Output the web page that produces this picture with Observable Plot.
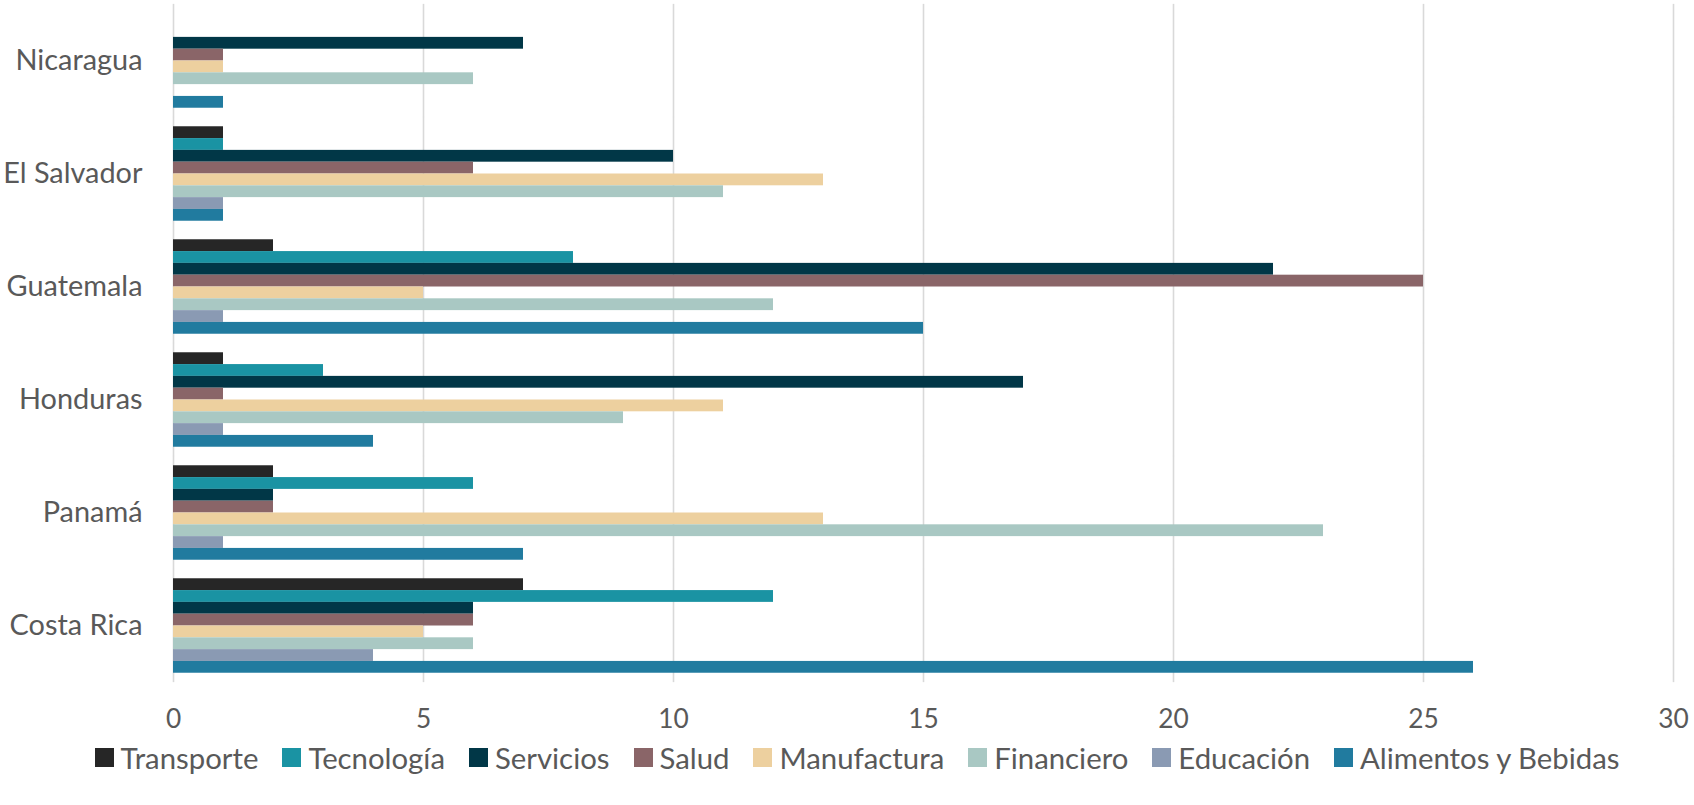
<!DOCTYPE html>
<html>
<head>
<meta charset="utf-8">
<script src="https://cdn.jsdelivr.net/npm/d3@7"></script>
<script src="https://cdn.jsdelivr.net/npm/@observablehq/plot@0.6"></script>
<style>
  html, body { margin: 0; padding: 0; background: #fff; }
  body { width: 1694px; height: 805px; overflow: hidden; font-family: Lato, sans-serif; }
  #chart svg { display: block; }
  #legend { display: flex; justify-content: center; align-items: center; height: 34px; margin-left: 20px; color: #595959; white-space: nowrap; }
  #legend .item { display: flex; align-items: center; margin: 0 12px; }
  #legend .sw { width: 19px; height: 19px; margin-right: 7px; flex: none; }
</style>
</head>
<body>
<div id="chart"></div>
<div id="legend"></div>
<script>
const countries = ["Nicaragua", "El Salvador", "Guatemala", "Honduras", "Panamá", "Costa Rica"];
const sectors = ["Transporte", "Tecnología", "Servicios", "Salud", "Manufactura", "Financiero", "Educación", "Alimentos y Bebidas"];
const colors = ["#262626", "#1a93a3", "#013747", "#8a6568", "#edd09f", "#a9c8c3", "#8a9ab3", "#217b9f"];
const xTicks = [0, 5, 10, 15, 20, 25, 30];

// values per sector, aligned with countries
const transporte  = [0, 1, 2, 1, 2, 7];
const tecnologia  = [0, 1, 8, 3, 6, 12];
const servicios   = [7, 10, 22, 17, 2, 6];
const salud       = [1, 6, 25, 1, 2, 6];
const manufactura = [1, 13, 5, 11, 13, 5];
const financiero  = [6, 11, 12, 9, 23, 6];
const educacion   = [0, 1, 1, 1, 1, 4];
const alimentos   = [1, 1, 15, 4, 7, 26];

const series = [transporte, tecnologia, servicios, salud, manufactura, financiero, educacion, alimentos];
const table = [];
sectors.forEach((s, i) => {
  countries.forEach((c, j) => {
    table.push({country: c, sector: s, value: series[i][j]});
  });
});

const textColor = "#595959";
const fontFam = "Lato, 'Open Sans', sans-serif";

// choose font sizes so the installed font matches the reference text widths
const ctx = document.createElement("canvas").getContext("2d");
function fit(text, target) {
  ctx.font = "100px " + fontFam;
  return 100 * target / ctx.measureText(text).width;
}
const countrySize = fit("Costa Rica", 133);
const tickSize = fit("10", 30.5);
const legendSize = fit("Alimentos y Bebidas", 261);

const chart = Plot.plot({
  width: 1694,
  height: 740,
  marginLeft: 173,
  marginRight: 21,
  marginTop: 4,
  marginBottom: 58,
  style: {fontFamily: fontFam, background: "#fff"},
  x: {domain: [0, 30], axis: null},
  y: {domain: sectors, padding: 0, round: false, axis: null},
  fy: {domain: countries, paddingInner: 0.164, paddingOuter: 0.082, round: false, axis: null},
  color: {domain: sectors, range: colors},
  marks: [
    Plot.ruleX(xTicks, {x: d => d, stroke: "#d9d9d9", strokeWidth: 1.6, insetTop: -9.4, insetBottom: -9.4}),
    Plot.barX(table, {x: "value", y: "sector", fy: "country", fill: "sector", inset: 0}),
    Plot.axisFy({anchor: "left", tickSize: 0, tickPadding: 31, fontSize: countrySize, fill: textColor, label: null}),
    Plot.axisX({ticks: xTicks, tickSize: 0, tickPadding: 36, fontSize: tickSize, fill: textColor, label: null})
  ]
});
document.getElementById("chart").appendChild(chart);

const legend = document.getElementById("legend");
legend.style.fontSize = legendSize + "px";
sectors.forEach((s, i) => {
  const item = document.createElement("div");
  item.className = "item";
  const sw = document.createElement("span");
  sw.className = "sw";
  sw.style.background = colors[i];
  const lab = document.createElement("span");
  lab.textContent = s;
  item.appendChild(sw);
  item.appendChild(lab);
  legend.appendChild(item);
});
</script>
</body>
</html>
